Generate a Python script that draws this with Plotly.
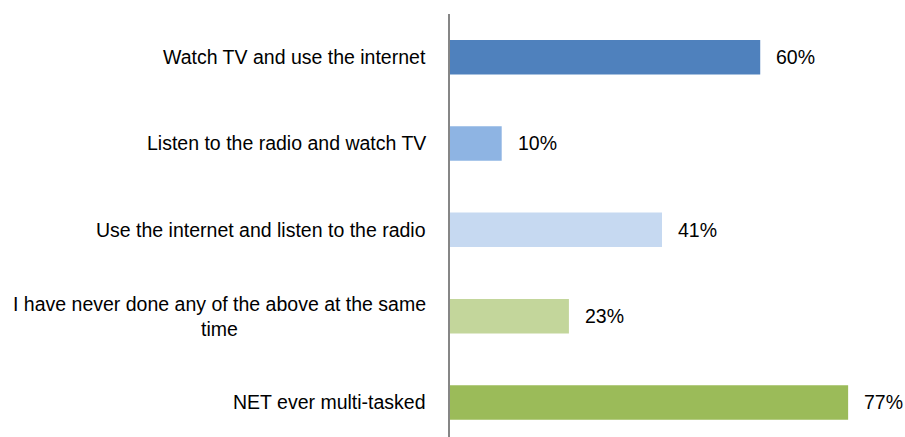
import plotly.graph_objects as go

categories = [
    "Watch TV and use the internet",
    "Listen to the radio and watch TV",
    "Use the internet and listen to the radio",
    "I have never done any of the above at the same<br>time",
    "NET ever multi-tasked",
]
values = [60, 10, 41, 23, 77]
colors = ["#4F81BD", "#8EB4E3", "#C6D9F1", "#C3D69B", "#9BBB59"]

FONT = "Liberation Sans, Arial, sans-serif"
SIZE = 19.5

fig = go.Figure()
fig.add_trace(go.Bar(
    x=values,
    y=list(range(len(categories))),
    orientation="h",
    marker=dict(color=colors, line=dict(width=0)),
    width=0.4,
    hoverinfo="skip",
))

# value labels to the right of each bar
for i, v in enumerate(values):
    fig.add_annotation(
        x=v, y=i, xref="x", yref="y",
        text=f"{v}%", showarrow=False,
        xanchor="left", yanchor="middle", xshift=14,
        font=dict(family=FONT, size=SIZE, color="#000000"),
    )

# category labels, centred line by line and right-aligned to the axis
for i, c in enumerate(categories):
    fig.add_annotation(
        x=0, y=i, xref="paper", yref="y",
        text=c, showarrow=False, align="center",
        xanchor="right", yanchor="middle", xshift=-22,
        font=dict(family=FONT, size=SIZE, color="#000000"),
    )

fig.update_layout(
    width=905, height=437,
    margin=dict(l=450, r=0, t=14, b=0),
    paper_bgcolor="white", plot_bgcolor="white",
    showlegend=False,
    xaxis=dict(range=[0, 88], visible=False, fixedrange=True),
    yaxis=dict(
        range=[4.4, -0.5], showticklabels=False, showgrid=False,
        zeroline=False, showline=True, linecolor="#868686", linewidth=2,
        ticks="", fixedrange=True,
    ),
)

fig.write_html("out.html")
